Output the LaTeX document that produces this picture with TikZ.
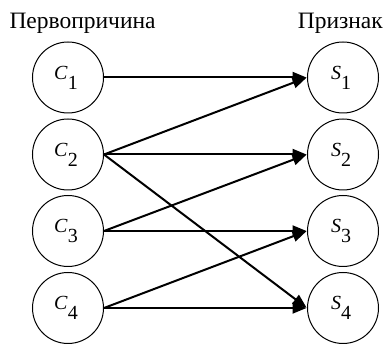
\documentclass[tikz,border=0pt]{standalone}
\usepackage{fontspec}
\setmainfont{Liberation Serif}
\usetikzlibrary{arrows.meta}
% index symbol: italic letter with a lowered, full-size digit
\newcommand{\sym}[2]{\textit{#1}\raisebox{-10pt}{#2}}
\begin{document}
\begin{tikzpicture}[x=1pt,y=-1pt,
  every node/.style={font=\fontsize{20}{24}\selectfont},
  vertex/.style={draw,circle,line width=1pt,minimum size=71pt,inner sep=0pt},
  heading/.style={inner sep=0pt,font=\fontsize{23.5}{28}\selectfont},
  link/.style={line width=2pt,-{Triangle[length=14pt,width=11pt]},shorten >=0.5pt}]
  \useasboundingbox (0,0) rectangle (384,344);
  % headings
  \node[heading,anchor=base west] (hc) at (9.3,28.3) {Первопричина};
  \node[heading,anchor=base east] (hs) at (383,28.3) {Признак};
  % causes and signs
  \foreach \i/\y in {1/77.5,2/154.5,3/231,4/308}{
    \node[vertex] (c\i) at (68,\y) {\hspace{-4pt}\raisebox{-2.2pt}{\sym{C}{\i}}};
    \node[vertex] (s\i) at (343,\y) {\hspace{-4pt}\raisebox{-2.2pt}{\sym{S}{\i}}};
  }
  % cause -> sign links
  \foreach \a/\b in {1/1,2/1,2/2,2/4,3/2,3/3,4/3,4/4}{
    \draw[link] (c\a.east) -- (s\b.west);
  }
\end{tikzpicture}
\end{document}
